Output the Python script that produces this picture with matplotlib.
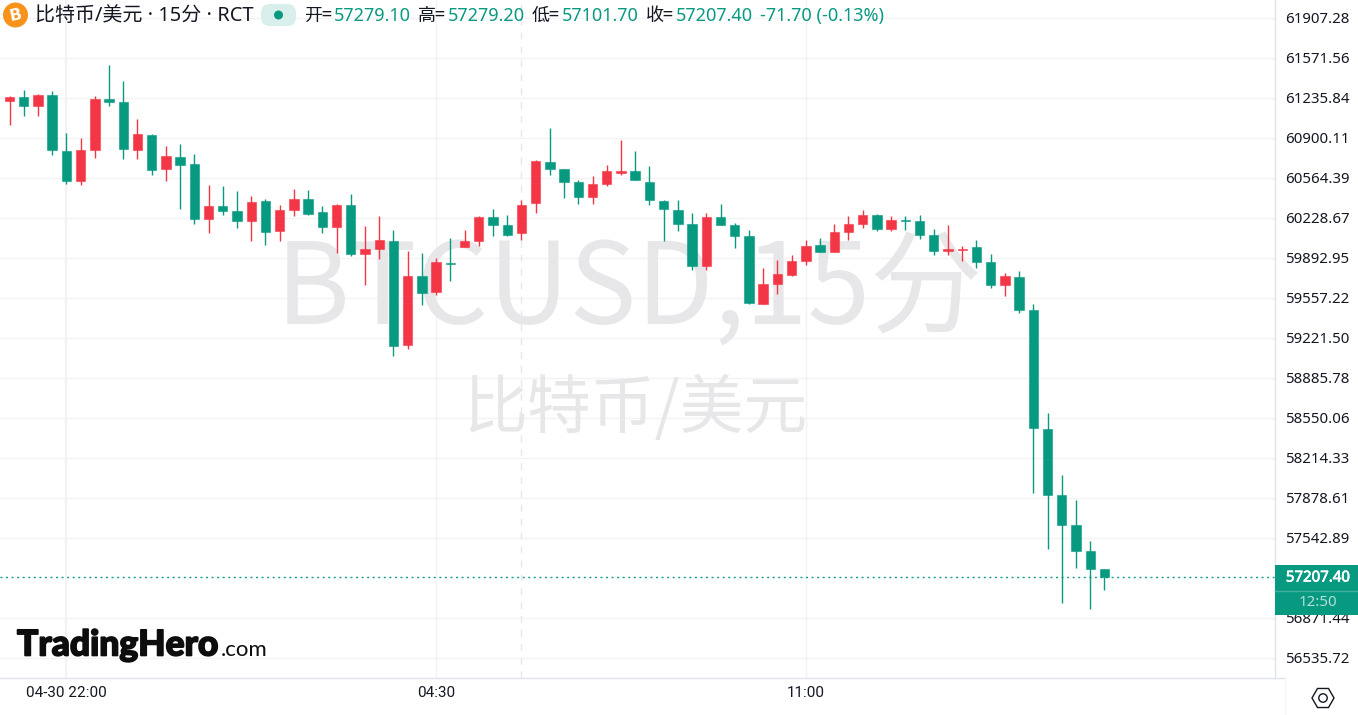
import numpy as np
import matplotlib
matplotlib.use('Agg')
import matplotlib.pyplot as plt
import matplotlib.patches as patches
import matplotlib.patheffects as pe
from matplotlib.transforms import IdentityTransform

# candle values
opens = [61209, 61237, 61164, 61257, 60784, 60535, 60795, 61223, 61195, 60795, 60921, 60638, 60734,
         60680, 60218, 60325, 60281, 60199, 60367, 60115, 60291, 60386, 60272, 60146, 60333, 59925,
         59964, 60031, 59158, 59738, 59601, 59849, 59978, 60031, 60230, 60166, 60096, 60348, 60692,
         60638, 60524, 60398, 60512, 60605, 60619, 60524, 60367, 60291, 60177, 59821, 60230, 60166,
         60073, 59505, 59673, 59746, 59863, 59998, 59936, 60104, 60174, 60250, 60135, 60208, 60197,
         60082, 59947, 59956, 59978, 59853, 59662, 59727, 59452, 58456, 57899, 57648, 57429, 57279.1]
closes = [61237, 61164, 61257, 60795, 60535, 60795, 61223, 61195, 60806, 60932, 60627, 60745, 60669,
          60218, 60325, 60281, 60197, 60356, 60104, 60291, 60386, 60260, 60146, 60333, 59925, 59964,
          60040, 59150, 59738, 59597, 59853, 59841, 60031, 60230, 60168, 60082, 60333, 60703, 60638,
          60524, 60398, 60512, 60619, 60619, 60543, 60375, 60302, 60177, 59821, 60230, 60166, 60073,
          59513, 59673, 59757, 59863, 59989, 59936, 60104, 60174, 60250, 60135, 60208, 60199, 60084,
          59947, 59964, 59967, 59853, 59662, 59738, 59452, 58459, 57902, 57648, 57429, 57281, 57207.4]
highs = [61248, 61299, 61265, 61290, 60938, 60896, 61248, 61508, 61374, 61055, 60929, 60829, 60845,
         60761, 60501, 60493, 60451, 60409, 60384, 60333, 60468, 60459, 60325, 60342, 60426, 60157,
         60241, 60124, 59947, 59931, 59889, 60056, 60124, 60241, 60300, 60250, 60375, 60711, 60980,
         60638, 60543, 60577, 60669, 60879, 60787, 60661, 60375, 60375, 60266, 60266, 60342, 60182,
         60124, 59805, 59872, 59914, 60040, 60056, 60174, 60241, 60291, 60258, 60241, 60241, 60250,
         60132, 60166, 59989, 60040, 59922, 59763, 59780, 59503, 58588, 58067, 57857, 57513, 57279.2]
lows = [61005, 61083, 61083, 60753, 60510, 60501, 60728, 61164, 60720, 60720, 60585, 60535, 60300,
        60174, 60098, 60250, 60140, 60031, 59998, 60031, 60241, 60250, 60098, 59931, 59905, 59662,
        59880, 59066, 59125, 59494, 59578, 59696, 59978, 59989, 60073, 60073, 60040, 60266, 60585,
        60392, 60342, 60342, 60493, 60585, 60543, 60333, 60031, 60115, 59788, 59788, 60166, 59973,
        59503, 59505, 59586, 59738, 59830, 59936, 59936, 60040, 60140, 60115, 60115, 60124, 60048,
        59914, 59914, 59863, 59805, 59637, 59570, 59427, 57919, 57446, 56996, 57287, 56945, 57101.7]

price_ticks = [61907.28, 61571.56, 61235.84, 60900.11, 60564.39, 60228.67, 59892.95, 59557.22,
               59221.50, 58885.78, 58550.06, 58214.33, 57878.61, 57542.89, 56871.44, 56535.72]
last_price = 57207.40
time_ticks = [4, 30, 56]
time_labels = ['04-30 22:00', '04:30', '11:00']
session_break = 36

GREEN = '#089981'
RED = '#F23645'
INK = '#131722'
CJK = ['Noto Sans CJK SC', 'DejaVu Sans']
W, H = 1358, 715

opens, closes, highs, lows = map(np.array, (opens, closes, highs, lows))
x = np.arange(len(opens))
up = closes >= opens
colors = np.where(up, RED, GREEN)
edges = [(0.95, 0.21, 0.27, 0.55) if u else (0.03, 0.60, 0.51, 0.55) for u in up]

plt.rcParams['font.family'] = ['Noto Sans', 'Noto Sans CJK SC', 'DejaVu Sans']
fig = plt.figure(figsize=(W / 100, H / 100), dpi=100, facecolor='white')
ax = fig.add_axes([0, 1 - 678 / H, 1275 / W, 678 / H])


def fx(px):
    return px / W


def fy(py):
    return 1 - py / H


ax.set_xlim(-9.5 / 14.22, (1275 - 9.5) / 14.22)
ax.set_ylim(56363.7, 62054.16)

# grid
ax.set_axisbelow(True)
ax.grid(True, color='#f3f3f5', linewidth=1.0)
ax.axvline(time_ticks[0], color='#f1f1f9', linewidth=1.5, zorder=0.5)
ax.axvline(session_break, color='#e6e7ef', linewidth=1.0, dashes=(5, 5), zorder=0.6)

# watermark
wm = dict(color='#e7e7e9', zorder=0.8, ha='center', va='center', family=CJK,
          transform=fig.transFigure)
ax.text(fx(629), fy(291), 'BTCUSD,15分', fontsize=81, **wm)
ax.text(fx(636), fy(410), '比特币/美元', fontsize=46, **wm)

# candles
ax.vlines(x, lows, highs, colors=colors, linewidth=1.0, zorder=2)
ax.bar(x, closes - opens, bottom=opens, width=0.66, color=colors, edgecolor=edges,
       linewidth=0.8, zorder=3)

# last price line
ax.axhline(last_price, color=GREEN, linewidth=1.0, dashes=(1.4, 2.6), zorder=1.5)

# axes
for s in ['top', 'left']:
    ax.spines[s].set_visible(False)
for s in ['right', 'bottom']:
    ax.spines[s].set_color('#e0e3eb')
    ax.spines[s].set_linewidth(1.0)
ax.yaxis.tick_right()
ax.set_yticks(price_ticks)
ax.set_yticklabels(['%.2f' % p for p in price_ticks], fontsize=10.8, color=INK)
ax.set_xticks(time_ticks)
ax.set_xticklabels(time_labels, fontsize=11, color=INK, family='Roboto')
ax.tick_params(axis='y', length=0, pad=7.5)
ax.tick_params(axis='x', length=0, pad=6)

# bottom strip
fig.add_artist(plt.Line2D([fx(1275), fx(1285)], [fy(678), fy(678)], color='#e0e3eb', lw=1.0))
fig.add_artist(plt.Line2D([fx(1285), fx(1285)], [fy(678), fy(715)], color='#f7f7f8', lw=1.0))

# price badge
ax.add_patch(patches.Rectangle((1275, H - 615), 83, 50, transform=IdentityTransform(),
                               facecolor=GREEN, edgecolor='none', clip_on=False, zorder=6))
ax.add_line(plt.Line2D([fx(1275), fx(1358)], [fy(590.5), fy(590.5)], transform=fig.transFigure,
                       color='#3fb09c', lw=1.0, clip_on=False, zorder=7))
ax.text(fx(1318), fy(578), '57207.40', transform=fig.transFigure, color='white', fontsize=10.8,
        ha='center', va='center', clip_on=False, zorder=8,
        path_effects=[pe.withStroke(linewidth=0.5, foreground='white')])
ax.text(fx(1318), fy(603), '12:50', transform=fig.transFigure, color='#b5e0d8', fontsize=10.8,
        ha='center', va='center', clip_on=False, zorder=8)

# header
ax.add_patch(patches.Circle((15.5, H - 15), 12.5, transform=IdentityTransform(),
                            facecolor='#f7931a', edgecolor='none', clip_on=False, zorder=6))
ax.text(fx(15.5), fy(15), 'B', transform=fig.transFigure, color='white', fontsize=11.5,
        fontweight='bold', family='DejaVu Sans', ha='center', va='center', zorder=7, rotation=12)
fig.text(fx(35), fy(16), '比特币/美元 · 15分 · RCT', fontsize=14.4, color=INK, va='center')
ax.add_patch(patches.FancyBboxPatch((261, H - 26), 35, 22, transform=IdentityTransform(),
                                    boxstyle='round,pad=0,rounding_size=9',
                                    facecolor='#d8efeb', edgecolor='none',
                                    clip_on=False, zorder=5))
ax.add_patch(patches.Circle((278.5, H - 15), 4.5, transform=IdentityTransform(),
                            facecolor=GREEN, edgecolor='none', clip_on=False, zorder=6))

header = [(304, '开=', INK), (334, '57279.10', GREEN), (418, '高=', INK), (448, '57279.20', GREEN),
          (532, '低=', INK), (562, '57101.70', GREEN), (646, '收=', INK), (676, '57207.40', GREEN),
          (760, '-71.70 (-0.13%)', GREEN)]
for hx, label, col in header:
    fam = CJK if col == INK else ['Noto Sans']
    fig.text(fx(hx), fy(16), label, fontsize=13.0, color=col, va='center', family=fam)

# logo
fig.text(fx(17), fy(655.5), 'TradingHero', fontsize=25.5, fontweight='black', color='#0d0d0d',
         family='Lato', va='baseline',
         path_effects=[pe.withStroke(linewidth=1.2, foreground='#0d0d0d')])
fig.text(fx(221), fy(655.5), '.com', fontsize=16, color='#0d0d0d', family='Lato', va='baseline')

# settings icon
ax.add_patch(patches.RegularPolygon((1323, H - 698), 6, radius=11, orientation=np.pi / 2,
                                    transform=IdentityTransform(),
                                    facecolor='none', edgecolor=INK, linewidth=1.0, clip_on=False, zorder=6))
ax.add_patch(patches.Circle((1323, H - 698), 4.2, transform=IdentityTransform(),
                            facecolor='none', edgecolor=INK, linewidth=1.0, clip_on=False, zorder=6))

fig.savefig('out.png', dpi=100, facecolor='white')
